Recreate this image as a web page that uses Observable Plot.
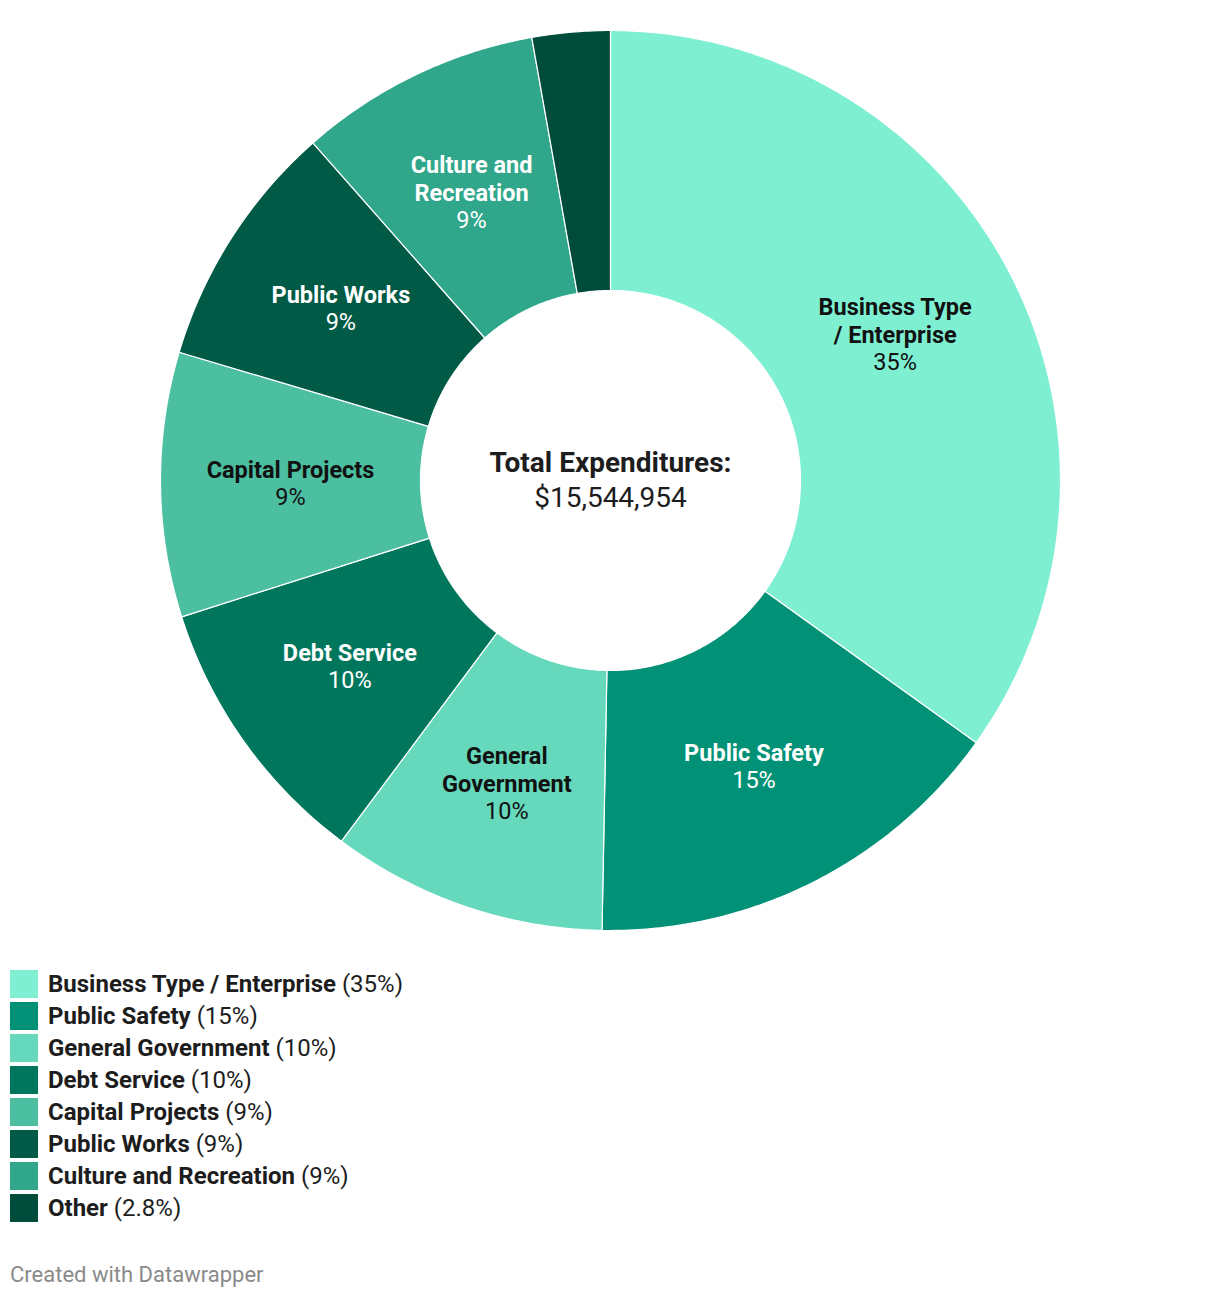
<!DOCTYPE html>
<html>
<head>
<meta charset="utf-8">
<script src="https://cdn.jsdelivr.net/npm/d3@7"></script>
<script src="https://cdn.jsdelivr.net/npm/@observablehq/plot@0.6"></script>
<style>
  body { margin: 0; background: #fff; font-family: Roboto, "Noto Sans", sans-serif; }
  #chart svg { display: block; }
  .legend { margin-top: 8px; }
  .row { display: flex; align-items: center; height: 32px; }
  .sw { width: 28px; height: 28px; margin-left: 10px; margin-right: 10px; }
  .lab { font-size: 24px; color: #1d1d1d; white-space: nowrap; }
  .lab b { font-weight: 700; }
  .credit { margin-top: 38px; margin-left: 10px; font-size: 22px; color: #8a8a8a; }
</style>
</head>
<body>
<div id="chart"></div>
<div class="legend" id="legend"></div>
<div class="credit">Created with Datawrapper</div>
<script>
const categories = ["Business Type / Enterprise", "Public Safety", "General Government", "Debt Service", "Capital Projects", "Public Works", "Culture and Recreation", "Other"];
const shares = [34.9, 15.4, 9.9, 9.9, 9.5, 8.9, 8.7, 2.8];
const shareLabels = ["35%", "15%", "10%", "10%", "9%", "9%", "9%", "2.8%"];
const sliceLabels = ["Business Type\n/ Enterprise", "Public Safety", "General\nGovernment", "Debt Service", "Capital Projects", "Public Works", "Culture and\nRecreation", ""];
const colors = ["#7eefd1", "#009176", "#66d8bc", "#00765d", "#4cbfa1", "#005a46", "#30a68b", "#004c3a"];
const labelColors = ["#111", "#fff", "#111", "#fff", "#111", "#fff", "#fff", "#fff"];
const totalLabel = "Total Expenditures:";
const totalValue = "$15,544,954";

const R_OUT = 1, R_IN = 190 / 450, R_LAB = 320 / 450;
const total = d3.sum(shares);

// build slice polygons from the shares
const points = [];
const labels = [];
let acc = 0;
categories.forEach((c, i) => {
  const a0 = acc / total * 2 * Math.PI;
  acc += shares[i];
  const a1 = acc / total * 2 * Math.PI;
  const n = Math.max(8, Math.ceil((a1 - a0) / 0.01));
  for (let k = 0; k <= n; k++) {
    const a = a0 + (a1 - a0) * k / n;
    points.push({cat: c, x: R_OUT * Math.sin(a), y: R_OUT * Math.cos(a)});
  }
  for (let k = n; k >= 0; k--) {
    const a = a0 + (a1 - a0) * k / n;
    points.push({cat: c, x: R_IN * Math.sin(a), y: R_IN * Math.cos(a)});
  }
  const am = (a0 + a1) / 2;
  labels.push({name: sliceLabels[i], pct: shareLabels[i], color: labelColors[i],
               x: R_LAB * Math.sin(am), y: R_LAB * Math.cos(am)});
});

const LH = 28, FS = 23.5;
const labelMarks = [];
labels.forEach(l => {
  if (!l.name) return;
  const n = l.name.split("\n").length;
  const topCenter = -((n + 1) * LH) / 2 + LH / 2; // center of first line relative to anchor
  labelMarks.push(Plot.text([l], {x: "x", y: "y", text: "name", fill: l.color, fontWeight: 700,
    fontSize: FS, lineHeight: LH / FS, lineAnchor: "middle", dy: topCenter + (n - 1) * LH / 2}));
  labelMarks.push(Plot.text([l], {x: "x", y: "y", text: "pct", fill: l.color, fontWeight: 400,
    fontSize: FS, lineAnchor: "middle", dy: topCenter + n * LH}));
});

const chart = Plot.plot({
  width: 1220,
  height: 960,
  marginLeft: 160, marginRight: 160, marginTop: 30, marginBottom: 30,
  x: {domain: [-1, 1], axis: null},
  y: {domain: [-1, 1], axis: null},
  color: {domain: categories, range: colors},
  style: {fontFamily: "Roboto, 'Noto Sans', sans-serif"},
  marks: [
    Plot.line(points, {x: "x", y: "y", z: "cat", fill: "cat", stroke: "white", strokeWidth: 1.2, curve: "linear-closed"}),
    ...labelMarks,
    Plot.text([{x: 0, y: 0}], {x: "x", y: "y", text: () => totalLabel, fontWeight: 700, fontSize: 28, fill: "#1d1d1d", dy: -17}),
    Plot.text([{x: 0, y: 0}], {x: "x", y: "y", text: () => totalValue, fontWeight: 400, fontSize: 28, fill: "#1d1d1d", dy: 18})
  ]
});
document.getElementById("chart").append(chart);

const leg = document.getElementById("legend");
categories.forEach((c, i) => {
  const row = document.createElement("div");
  row.className = "row";
  row.innerHTML = `<div class="sw" style="background:${colors[i]}"></div><div class="lab"><b>${c}</b> (${shareLabels[i]})</div>`;
  leg.append(row);
});
</script>
</body>
</html>
